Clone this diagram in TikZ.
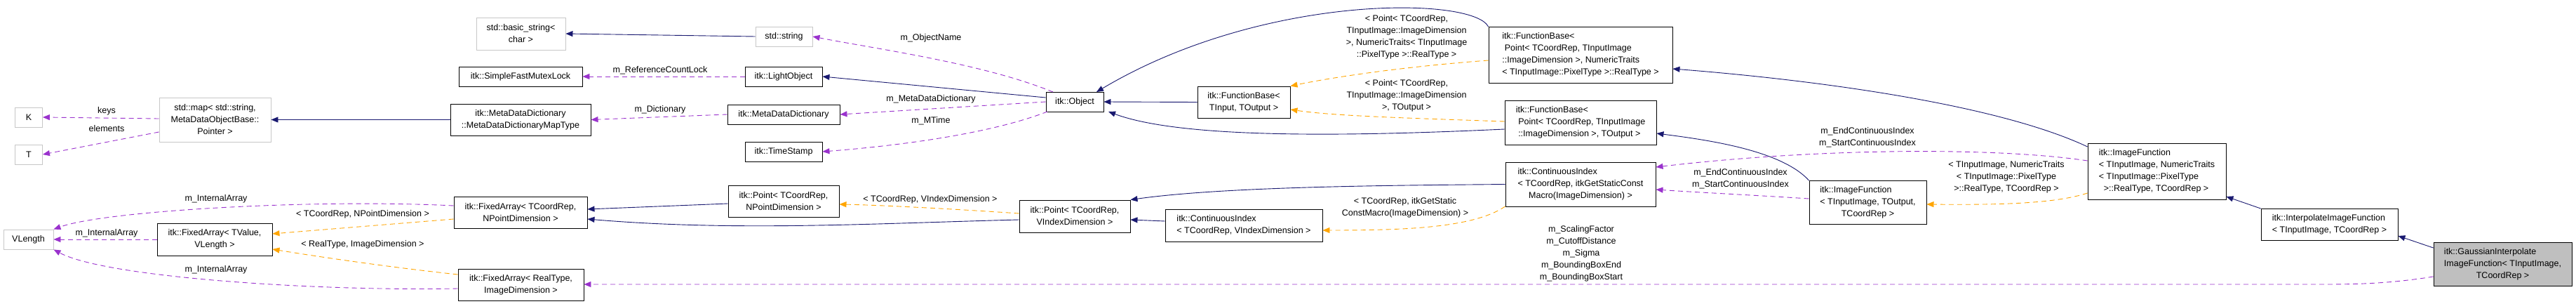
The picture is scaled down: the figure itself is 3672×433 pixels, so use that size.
\documentclass[tikz,border=0pt]{standalone}
\usepackage{fontspec}
\setmainfont{Liberation Sans}
\usetikzlibrary{arrows.meta}
\definecolor{inh}{HTML}{191970}
\definecolor{use}{HTML}{9A32CD}
\definecolor{tpl}{HTML}{FFA500}
\begin{document}
\begin{tikzpicture}[x=1pt,y=-1pt,
  every node/.style={font=\fontsize{12.5}{17}\selectfont},
  box/.style={draw=black,line width=0.9pt,fill=white,align=center,inner sep=1pt},
  gbox/.style={box,draw=black!22},
  lbl/.style={align=center,inner sep=0pt,fill=none,draw=none},
  tip/.style={-{Triangle[length=10pt,width=8pt]}},
  inhe/.style={tip,draw=inh,line width=0.9pt},
  usee/.style={tip,draw=use,dash pattern=on 7pt off 5pt,line width=0.9pt},
  tple/.style={tip,draw=tpl,dash pattern=on 7pt off 5pt,line width=0.9pt}]
\useasboundingbox (0,0) rectangle (3672,433);
\fill[white] (0,0) rectangle (3672,433);
\def\bx#1#2#3#4#5#6{\node[#1,minimum width=#4pt,minimum height=#5pt] (#2) at #3 {#6};}
\bx{gbox}{K}{(41,167)}{39}{28}{K}
\bx{gbox}{T}{(41,220)}{39}{28}{T}
\bx{gbox}{map}{(306.5,170.5)}{159}{63}{std::map< std::string,\\MetaDataObjectBase::\\Pointer >}
\bx{gbox}{VL}{(40.5,341)}{71}{28}{VLength}
\bx{box}{FAVL}{(306,341)}{164}{46}{itk::FixedArray< TValue,\\VLength >}
\bx{gbox}{bstr}{(742.5,48)}{127}{46}{std::basic\_string<\\char >}
\bx{gbox}{str}{(1117.5,52)}{81}{28}{std::string}
\bx{box}{mutex}{(742,109)}{176}{28}{itk::SimpleFastMutexLock}
\bx{box}{light}{(1117,109)}{110}{28}{itk::LightObject}
\bx{box}{maptype}{(742,170.5)}{200}{45}{itk::MetaDataDictionary\\::MetaDataDictionaryMapType}
\bx{box}{mdd}{(1117,163)}{160}{28}{itk::MetaDataDictionary}
\bx{box}{ts}{(1117,216)}{110}{28}{itk::TimeStamp}
\bx{box}{pnp}{(1117,286.5)}{158}{45}{itk::Point< TCoordRep,\\NPointDimension >}
\bx{box}{fanp}{(742,302.5)}{190}{45}{itk::FixedArray< TCoordRep,\\NPointDimension >}
\bx{box}{fari}{(742.5,405.5)}{179}{45}{itk::FixedArray< RealType,\\ImageDimension >}
\bx{box}{obj}{(1532,145)}{82}{28}{itk::Object}
\bx{box}{fbio}{(1773,145.5)}{132}{45}{itk::FunctionBase<\\TInput, TOutput >}
\bx{box}{pvi}{(1532,308)}{158}{46}{itk::Point< TCoordRep,\\VIndexDimension >}
\bx{box}{civi}{(1773,321)}{224}{46}{\begin{tabular}{@{}l@{}}itk::ContinuousIndex\\< TCoordRep, VIndexDimension >\end{tabular}}
\bx{box}{fbpn}{(2253,78)}{262}{80}{\begin{tabular}{@{}l@{}}itk::FunctionBase<\\\ Point< TCoordRep, TInputImage\\::ImageDimension >, NumericTraits\\< TInputImage::PixelType >::RealType >\end{tabular}}
\bx{box}{fbpo}{(2253,174.5)}{216}{63}{\begin{tabular}{@{}l@{}}itk::FunctionBase<\\\ Point< TCoordRep, TInputImage\\\ ::ImageDimension >, TOutput >\end{tabular}}
\bx{box}{cig}{(2253,262.5)}{214}{63}{\begin{tabular}{@{}l@{}}itk::ContinuousIndex\\< TCoordRep, itkGetStaticConst\\\hfil Macro(ImageDimension) >\end{tabular}}
\bx{box}{ifo}{(2662.5,288)}{167}{62}{\begin{tabular}{@{}l@{}}itk::ImageFunction\\< TInputImage, TOutput,\\\hfil TCoordRep >\end{tabular}}
\bx{box}{ifn}{(3074.5,244)}{197}{80}{\begin{tabular}{@{}l@{}}itk::ImageFunction\\< TInputImage, NumericTraits\\< TInputImage::PixelType\\\ \ >::RealType, TCoordRep >\end{tabular}}
\bx{box}{interp}{(3320.5,319.5)}{195}{45}{\begin{tabular}{@{}l@{}}itk::InterpolateImageFunction\\< TInputImage, TCoordRep >\end{tabular}}
\bx{box,fill=black!25}{gauss}{(3567.5,376)}{197}{62}{\begin{tabular}{@{}l@{}}itk::GaussianInterpolate\\ImageFunction< TInputImage,\\\hfil TCoordRep >\end{tabular}}
\coordinate (objT) at (1501,131);
\coordinate (objTR) at (1563,131);
\coordinate (objBR) at (1580,159);
\coordinate (objBL) at (1493,159);
% edges
\draw[inhe] (str.west) -- (bstr.east);
\draw[usee] (objT) .. controls (1400,90) and (1250,70) .. (str.east);
\draw[inhe] (obj.west|-1491,139) -- (light.east);
\draw[usee] (obj.west) -- (mdd.east);
\draw[usee] (objBL) .. controls (1400,195) and (1250,210) .. (ts.east);
\draw[usee] (light.west) -- (mutex.east);
\draw[usee] (mdd.west) -- (maptype.east);
\draw[inhe] (maptype.west) -- (map.east);
\draw[usee] (map.west|-227,169) -- (K.east);
\draw[usee] (map.west|-227,188) -- (T.east);
\draw[inhe] (fbio.west) -- (obj.east);
\draw[inhe] (fbpn.north west|-2172,38) .. controls (2100,-5) and (1800,-10) .. (objTR);
\draw[tple] (fbpn.west|-2122,86) .. controls (2000,95) and (1900,110) .. (fbio.north east);
\draw[inhe] (fbpo.west|-2145,184) .. controls (1950,193) and (1690,200) .. (objBR);
\draw[tple] (fbpo.west|-2145,173) .. controls (2000,168) and (1900,165) .. (fbio.east|-1839,156);
\draw[inhe] (pnp.west|-1038,290) -- (fanp.east|-837,298);
\draw[inhe] (pvi.west|-1453,313) .. controls (1250,318) and (1050,330) .. (fanp.east|-837,312);
\draw[tple] (pvi.west|-1453,304) .. controls (1350,297) and (1250,292) .. (pnp.east|-1196,291);
\draw[usee] (fanp.west|-647,293) .. controls (450,283) and (150,300) .. (VL.north east);
\draw[tple] (fanp.west|-647,312) -- (FAVL.east|-388,333);
\draw[usee] (FAVL.west) -- (VL.east);
\draw[usee] (fari.west|-653,411) .. controls (450,415) and (150,395) .. (VL.south east);
\draw[tple] (fari.west|-651,391) .. controls (550,380) and (450,365) .. (FAVL.east|-388,355);
\draw[inhe] (civi.west|-1661,315) -- (pvi.east|-1611,313);
\draw[inhe] (cig.west) .. controls (2000,264) and (1750,265) .. (pvi.north east);
\draw[tple] (cig.south west|-2173,294) .. controls (2100,325) and (2000,328) .. (civi.east|-1885,328);
\draw[inhe] (ifo.north west|-2606,257) .. controls (2540,215) and (2440,200) .. (fbpo.east|-2361,190);
\draw[usee] (ifo.west|-2579,283) .. controls (2500,278) and (2420,274) .. (cig.east|-2360,270);
\draw[inhe] (ifn.north west|-2975,209) .. controls (2850,150) and (2600,115) .. (fbpn.east|-2384,98);
\draw[usee] (ifn.west|-2976,229) .. controls (2850,210) and (2600,210) .. (cig.north east|-2360,238);
\draw[tple] (ifn.west|-2976,275) .. controls (2930,290) and (2850,292) .. (ifo.east|-2746,291);
\draw[inhe] (interp.north west|-3246,297) -- (ifn.south east|-3173,280);
\draw[inhe] (gauss.west|-3469,353) -- (interp.south east|-3420,336);
\draw[usee] (gauss.west|-3469,394) .. controls (3400,405) and (3350,405) .. (3300,405) -- (fari.east|-832,405);
% labels
\node[lbl] (l1) at (152,158) {keys};
\node[lbl] (l2) at (152,183) {elements};
\node[lbl] (l3) at (308,283) {m\_InternalArray};
\node[lbl] (l4) at (152,332) {m\_InternalArray};
\node[lbl] (l5) at (308,384) {m\_InternalArray};
\node[lbl] (l6) at (517,305) {< TCoordRep, NPointDimension >};
\node[lbl] (l7) at (517,348) {< RealType, ImageDimension >};
\node[lbl] (l8) at (941,100) {m\_ReferenceCountLock};
\node[lbl] (l9) at (941,156) {m\_Dictionary};
\node[lbl] (l10) at (1327,54) {m\_ObjectName};
\node[lbl] (l11) at (1327,141) {m\_MetaDataDictionary};
\node[lbl] (l12) at (1327,172) {m\_MTime};
\node[lbl] (l13) at (1326,284) {< TCoordRep, VIndexDimension >};
\node[lbl] (l14) at (2005,53) {< Point< TCoordRep,\\TInputImage::ImageDimension\\>, NumericTraits< TInputImage\\::PixelType >::RealType >};
\node[lbl] (l15) at (2005,136) {< Point< TCoordRep,\\TInputImage::ImageDimension\\>, TOutput >};
\node[lbl] (l16) at (2003,296) {< TCoordRep, itkGetStatic\\ConstMacro(ImageDimension) >};
\node[lbl] (l17) at (2254,361) {m\_ScalingFactor\\m\_CutoffDistance\\m\_Sigma\\m\_BoundingBoxEnd\\m\_BoundingBoxStart};
\node[lbl] (l18) at (2481,255) {m\_EndContinuousIndex\\m\_StartContinuousIndex};
\node[lbl] (l19) at (2662,196) {m\_EndContinuousIndex\\m\_StartContinuousIndex};
\node[lbl] (l20) at (2860,252) {< TInputImage, NumericTraits\\< TInputImage::PixelType\\>::RealType, TCoordRep >};
\end{tikzpicture}
\end{document}
